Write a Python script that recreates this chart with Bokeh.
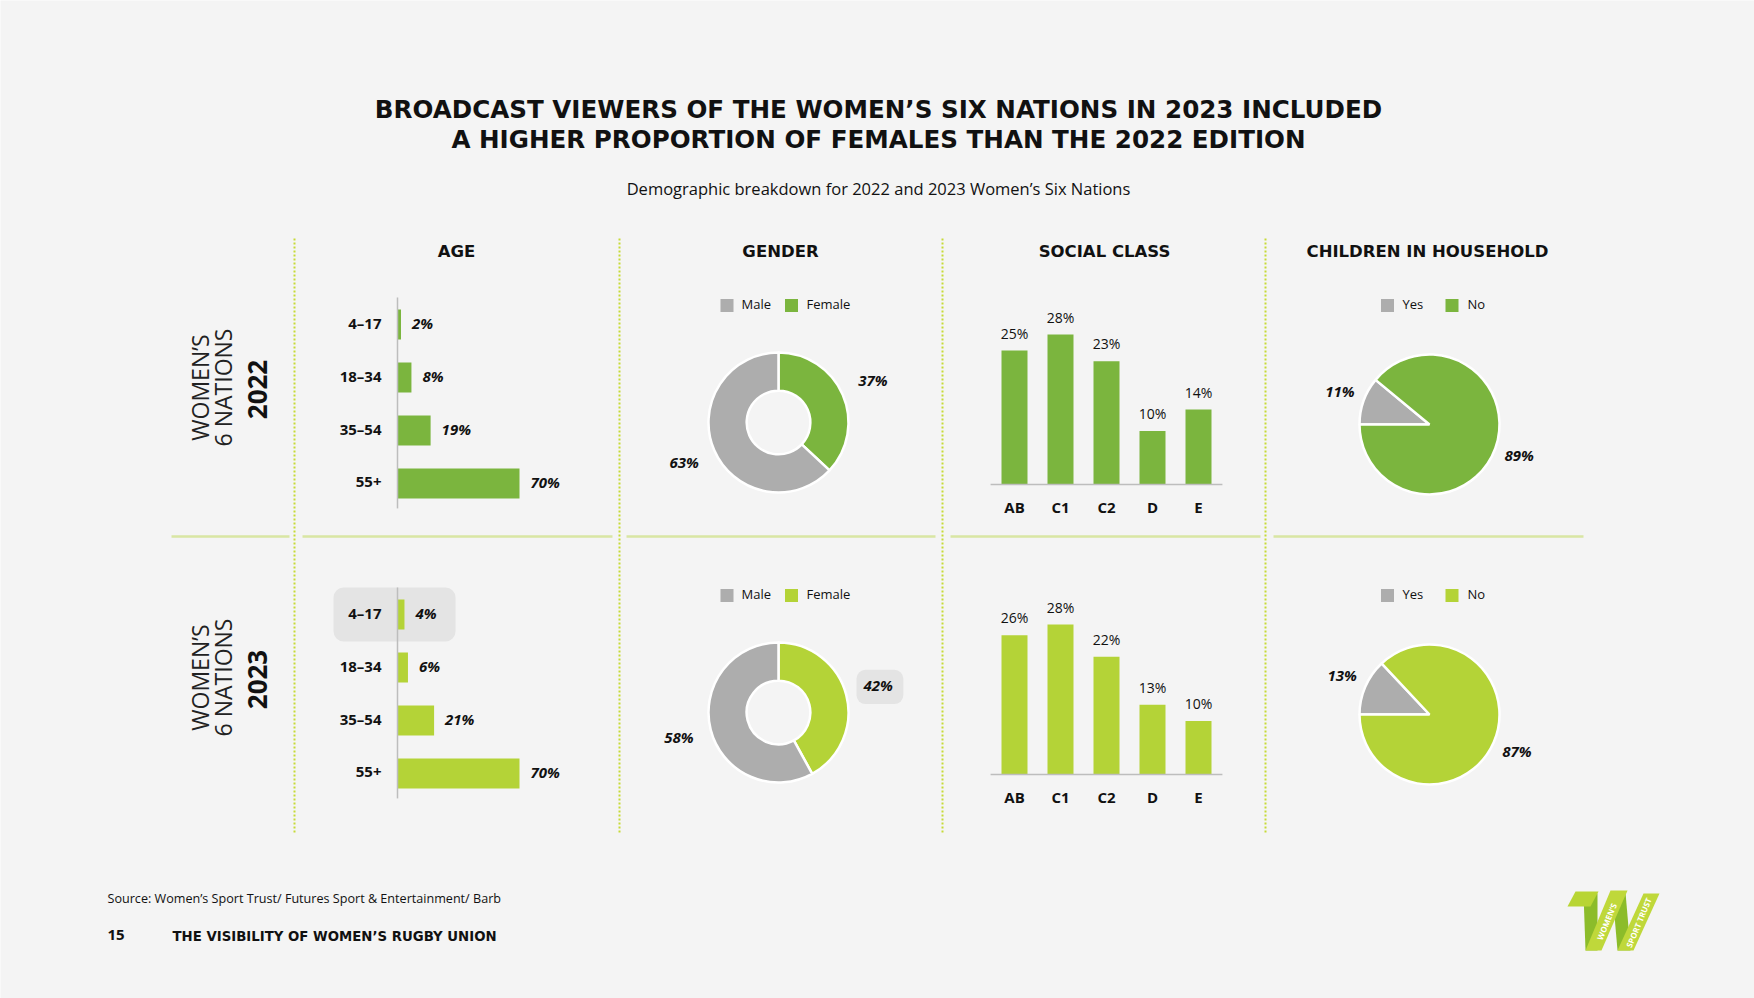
import math
from bokeh.plotting import figure
from bokeh.models import Range1d
from bokeh.core.properties import value
from bokeh.embed import file_html
from bokeh.resources import INLINE

# ---------------- data ----------------
years = ["2022", "2023"]
panel_titles = ["AGE", "GENDER", "SOCIAL CLASS", "CHILDREN IN HOUSEHOLD"]

age_groups = ["4–17", "18–34", "35–54", "55+"]
age_2022 = [2, 8, 19, 70]
age_2023 = [4, 6, 21, 70]

gender_labels = ["Male", "Female"]
gender_2022 = [63, 37]
gender_2023 = [58, 42]

social_classes = ["AB", "C1", "C2", "D", "E"]
social_2022 = [25, 28, 23, 10, 14]
social_2023 = [26, 28, 22, 13, 10]

children_labels = ["Yes", "No"]
children_2022 = [11, 89]
children_2023 = [13, 87]

title_lines = ["BROADCAST VIEWERS OF THE WOMEN’S SIX NATIONS IN 2023 INCLUDED",
               "A HIGHER PROPORTION OF FEMALES THAN THE 2022 EDITION"]
subtitle = "Demographic breakdown for 2022 and 2023 Women’s Six Nations"
row_label_lines = ["WOMEN’S", "6 NATIONS"]
source_note = "Source: Women’s Sport Trust/ Futures Sport & Entertainment/ Barb"
page_number = "15"
footer_title = "THE VISIBILITY OF WOMEN’S RUGBY UNION"
logo_words = ["WOMEN’S", "SPORT TRUST"]

# ---------------- styles ----------------
BG = "#f4f4f4"
YEAR_COLOR = {"2022": "#7bb53e", "2023": "#b4d337"}
GREY = "#adadad"
DOT = "#c6da36"
SEP = "#d9e6a3"
INK = "#111111"
AXIS = "#bdbdbd"
HILITE = "#e4e4e4"
SANS = "Open Sans"
HEAD = "DejaVu Sans"

W, H = 1754, 998
p = figure(width=W, height=H, x_range=Range1d(0, W), y_range=Range1d(H, 0),
           x_axis_location=None, y_axis_location=None, toolbar_location=None,
           output_backend="svg", min_border=0)
p.grid.visible = False
p.outline_line_color = None
p.background_fill_color = BG
p.border_fill_color = BG


def put_text(target, x, y, s, size, style="normal", font=SANS, align="center",
             baseline="middle", angle=0, color=INK, y_offset=0, **kw):
    if font == SANS and angle == 0:
        y_offset = y_offset - 1.5
    return target.text(x=x, y=y, text=s, text_font=value(font),
                       text_font_size=f"{size}px", text_font_style=style,
                       text_color=color, text_align=align, text_baseline=baseline,
                       angle=angle, y_offset=y_offset, **kw)


# ---------------- header ----------------
put_text(p, [878], [109], [title_lines[0]], 24.6, "bold", font=HEAD)
put_text(p, [878], [139], [title_lines[1]], 24.6, "bold", font=HEAD)
put_text(p, [878], [189], [subtitle], 16.5)
put_text(p, [456, 780, 1104, 1427], [251] * 4, panel_titles, 16.5, "bold", font=HEAD)

# dividers
p.segment(x0=[294, 619, 942, 1265], y0=[238] * 4, x1=[294, 619, 942, 1265], y1=[834] * 4,
          line_color=DOT, line_width=2, line_dash="2 2")
p.segment(x0=[171, 302, 626, 950, 1273], y0=[536] * 5, x1=[289, 612, 935, 1260, 1583],
          y1=[536] * 5, line_color=SEP, line_width=2.5)

ages_by_year = [age_2022, age_2023]
gender_by_year = [gender_2022, gender_2023]
social_by_year = [social_2022, social_2023]
children_by_year = [children_2022, children_2023]

for r, yr in enumerate(years):
    dy = 290 * r
    col = YEAR_COLOR[yr]

    # row label
    put_text(p, [199], [387 + dy], [row_label_lines[0]], 23, angle=math.pi / 2, color="#222222")
    put_text(p, [222], [387 + dy], [row_label_lines[1]], 23, angle=math.pi / 2, color="#222222")
    put_text(p, [257], [389 + dy], [yr], 26, "bold", angle=math.pi / 2)

    # ---- age bars ----
    vals = ages_by_year[r]
    idx = list(range(len(age_groups)))
    ag = p.subplot(x_source=Range1d(0, 70), x_target=Range1d(397, 519),
                   y_source=Range1d(0, 3), y_target=Range1d(324 + dy, 483 + dy))
    if r == 1:
        ag.quad(left=[-36.7], right=[33.3], bottom=[-0.51], top=[0.51],
                border_radius=10, fill_color=HILITE, line_color=None)
    ag.hbar(y=idx, left=0, right=vals, height=0.566, fill_color=col, line_color=None)
    ag.segment(x0=[0], y0=[-0.51], x1=[0], y1=[3.47], line_color=AXIS, line_width=1.5)
    put_text(ag, [0] * len(idx), idx, age_groups, 15, "bold", align="right", x_offset=-16)
    put_text(ag, vals, idx, [f"{v}%" for v in vals], 15, "bold italic", align="left", x_offset=11)

    # ---- gender donut ----
    gv = gender_by_year[r]
    tot = sum(gv)
    cx, cy, R = 778, 422 + dy, 70
    dn = p.subplot(x_source=Range1d(-1, 1), x_target=Range1d(cx - R, cx + R),
                   y_source=Range1d(-1, 1), y_target=Range1d(cy + R, cy - R))
    colors = [GREY, col]
    order = [1, 0]  # Female first, clockwise from 12 o'clock
    starts, ends, fills, lx, ly, lt = [], [], [], [], [], []
    cum = 0.0
    for i in order:
        frac = gv[i] / tot
        a_end = math.pi / 2 - 2 * math.pi * cum
        a_start = math.pi / 2 - 2 * math.pi * (cum + frac)
        starts.append(a_start); ends.append(a_end); fills.append(colors[i])
        m = (a_start + a_end) / 2
        lx.append(1.47 * math.cos(m)); ly.append(1.47 * math.sin(m)); lt.append(f"{gv[i]}%")
        cum += frac
    if r == 1:
        dn.quad(left=[lx[0] - 0.31], right=[lx[0] + 0.36], bottom=[ly[0] - 0.245],
                top=[ly[0] + 0.245], border_radius=9, fill_color=HILITE, line_color=None)
    dn.annular_wedge(x=[0] * len(order), y=[0] * len(order), inner_radius=0.455,
                     outer_radius=1, start_angle=starts, end_angle=ends,
                     fill_color=fills, line_color="white", line_width=2.5)
    put_text(dn, lx, ly, lt, 15, "bold italic")
    p.scatter(x=[726.5, 791], y=[305 + dy] * 2, marker="square", size=13,
              fill_color=colors, line_color=None)
    put_text(p, [741, 806], [305 + dy] * 2, gender_labels, 13, align="left")

    # ---- social class ----
    sv = social_by_year[r]
    sidx = list(range(len(social_classes)))
    sc = p.subplot(x_source=Range1d(0, 4), x_target=Range1d(1014, 1198),
                   y_source=Range1d(0, 28), y_target=Range1d(484 + dy, 334 + dy))
    sc.vbar(x=sidx, bottom=0, top=sv, width=0.565, fill_color=col, line_color=None)
    sc.segment(x0=[-0.52], y0=[0], x1=[4.52], y1=[0], line_color=AXIS, line_width=1.5)
    put_text(sc, sidx, sv, [f"{v}%" for v in sv], 14, y_offset=-16)
    put_text(sc, sidx, [0] * len(sidx), social_classes, 15, "bold", y_offset=24)

    # ---- children pie ----
    cv = children_by_year[r]
    ctot = sum(cv)
    px, py = 1429, 424 + dy
    pie = p.subplot(x_source=Range1d(-1, 1), x_target=Range1d(px - R, px + R),
                    y_source=Range1d(-1, 1), y_target=Range1d(py + R, py - R))
    starts, ends, lx, ly, lt = [], [], [], [], []
    cum = 0.0
    for i in range(len(cv)):  # Yes first, clockwise from 9 o'clock
        frac = cv[i] / ctot
        a_end = math.pi - 2 * math.pi * cum
        a_start = math.pi - 2 * math.pi * (cum + frac)
        starts.append(a_start); ends.append(a_end)
        m = (a_start + a_end) / 2
        lx.append(1.36 * math.cos(m)); ly.append(1.36 * math.sin(m)); lt.append(f"{cv[i]}%")
        cum += frac
    pie.wedge(x=[0] * len(cv), y=[0] * len(cv), radius=1, start_angle=starts, end_angle=ends,
              fill_color=[GREY, col], line_color="white", line_width=2.5)
    put_text(pie, lx, ly, lt, 15, "bold italic")
    p.scatter(x=[1387, 1451.5], y=[305 + dy] * 2, marker="square", size=13,
              fill_color=[GREY, col], line_color=None)
    put_text(p, [1402, 1467], [305 + dy] * 2, children_labels, 13, align="left")

# ---------------- footer ----------------
put_text(p, [107], [899], [source_note], 12.6, align="left")
put_text(p, [107], [936], [page_number], 15, "bold", align="left")
put_text(p, [172], [936], [footer_title], 13.3, "bold", font=HEAD, align="left")

# logo (decorative)
p.patches(xs=[[1583, 1597, 1597, 1585], [1575, 1598, 1590, 1567],
              [1612, 1625, 1630, 1617]],
          ys=[[893, 893, 950, 950], [891, 891, 906, 906], [892, 892, 950, 950]],
          fill_color=["#8cbc2a", "#b8d534", "#8cbc2a"], line_color=None)
p.patches(xs=[[1585, 1601, 1627, 1610], [1617, 1633, 1659, 1643]],
          ys=[[950, 950, 890, 890], [950, 950, 893, 893]],
          fill_color=["#bfd83a", "#bfd83a"], line_color=None)
put_text(p, [1606, 1638], [921, 922], logo_words, 8, "bold", font=SANS,
         angle=math.atan2(60, 25), color="white")

open("out.html", "w").write(file_html(p, INLINE))
